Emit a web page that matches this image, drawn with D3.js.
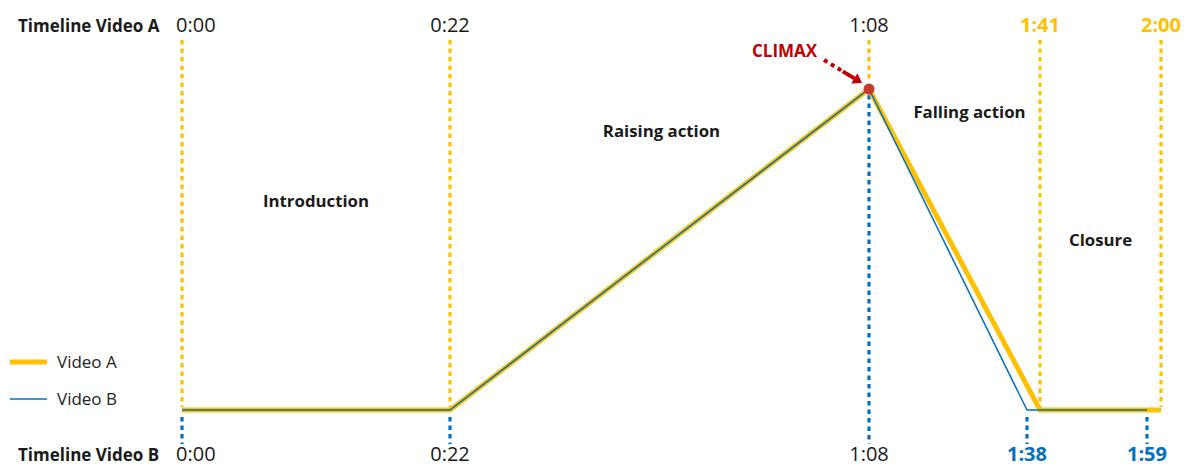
<!DOCTYPE html>
<html>
<head>
<meta charset="utf-8">
<script src="https://cdn.jsdelivr.net/npm/d3@7/dist/d3.min.js"></script>
<style>
  html, body { margin: 0; padding: 0; background: #fff; }
  svg { display: block; font-family: "Open Sans", "Noto Sans", sans-serif; }
</style>
</head>
<body>
<svg id="chart" width="1184" height="468"></svg>
<script>
// Story-arc timestamps for each cut, and the tension level at each of them
const timesA = ["0:00", "0:22", "1:08", "1:41", "2:00"];
const timesB = ["0:00", "0:22", "1:08", "1:38", "1:59"];
const tension = [0, 0, 1, 0, 0];
const phases = ["Introduction", "Raising action", "Falling action", "Closure"];
const seriesNames = ["Video A", "Video B"];
const axisTitles = ["Timeline Video A", "Timeline Video B"];
const climaxLabel = "CLIMAX";

const ORANGE = "#FFC000";
const BLUE = "#0070C0";
const RED = "#C00000";
const INK = "#1a1a1a";

const toSec = s => { const [m, ss] = s.split(":").map(Number); return m * 60 + ss; };
const secA = timesA.map(toSec);
const secB = timesB.map(toSec);

// Schematic (piecewise) time axis shared by both cuts
const stops = Array.from(new Set(secA.concat(secB))).sort((a, b) => a - b);
const x = d3.scaleLinear()
  .domain(stops)                                  // 0,22,68,98,101,119,120
  .range([182, 450, 869, 1027, 1040, 1147, 1161]);
const y = d3.scaleLinear().domain([0, 1]).range([410, 89]);

const svg = d3.select("#chart");

const yTop = 40, yBottom = 444;
const topBaseline = 32, bottomBaseline = 461;

// Video A guides (orange, from top axis down to the curve)
const gA = svg.append("g");
secA.forEach((s, i) => {
  gA.append("line")
    .attr("x1", x(s)).attr("x2", x(s))
    .attr("y1", yTop).attr("y2", i === 2 ? y(1) - 7 : y(tension[i]) - 3)
    .attr("stroke", ORANGE).attr("stroke-width", 3.2)
    .attr("stroke-dasharray", "4.5,4");
});

// Video B guides (blue, from the curve down to the bottom axis)
const gB = svg.append("g");
secB.forEach((s, i) => {
  gB.append("line")
    .attr("x1", x(s)).attr("x2", x(s))
    .attr("y1", i === 2 ? y(1) + 6 : y(tension[i]) + 7)
    .attr("y2", yBottom)
    .attr("stroke", BLUE).attr("stroke-width", 3.2)
    .attr("stroke-dasharray", "4.5,4");
});

// Curves
const line = d3.line().x(d => x(d[0])).y(d => y(d[1]));
svg.append("path")
  .datum(secA.map((s, i) => [s, tension[i]]))
  .attr("d", line)
  .attr("fill", "none").attr("stroke", ORANGE).attr("stroke-width", 5)
  .attr("stroke-linejoin", "miter");
svg.append("path")
  .datum(secB.map((s, i) => [s, tension[i]]))
  .attr("d", line)
  .attr("fill", "none").attr("stroke", BLUE).attr("stroke-width", 1.5);

// Axis labels, top (Video A) and bottom (Video B)
function axisLabels(times, secs, baseline, styleFor) {
  const g = svg.append("g");
  times.forEach((t, i) => {
    const st = styleFor(i);
    g.append("text")
      .attr("x", i === 0 ? x(secs[i]) - 6 : x(secs[i]))
      .attr("y", baseline)
      .attr("text-anchor", i === 0 ? "start" : "middle")
      .attr("font-size", 20)
      .attr("font-weight", st.bold ? 700 : 400)
      .attr("fill", st.color)
      .text(t);
  });
}
axisLabels(timesA, secA, topBaseline, i => i >= 3 ? { color: ORANGE, bold: true } : { color: INK, bold: false });
axisLabels(timesB, secB, bottomBaseline, i => i >= 3 ? { color: BLUE, bold: true } : { color: INK, bold: false });

svg.append("text").attr("x", 18).attr("y", topBaseline)
  .attr("font-size", 17).attr("font-weight", 700).attr("fill", INK)
  .text(axisTitles[0]);
svg.append("text").attr("x", 18).attr("y", bottomBaseline)
  .attr("font-size", 17).attr("font-weight", 700).attr("fill", INK)
  .text(axisTitles[1]);

// Phase labels, placed between consecutive timestamps of Video A
const phaseLayout = [
  { dx: 0, level: 0.645 },
  { dx: 2, level: 0.865 },
  { dx: 15, level: 0.925 },
  { dx: 0, level: 0.525 }
];
phases.forEach((p, i) => {
  const cx = (x(secA[i]) + x(secA[i + 1])) / 2 + phaseLayout[i].dx;
  svg.append("text")
    .attr("x", cx).attr("y", y(phaseLayout[i].level))
    .attr("text-anchor", "middle").attr("dominant-baseline", "middle")
    .attr("font-size", 16.8).attr("font-weight", 700).attr("fill", INK)
    .text(p);
});

// Climax marker and callout
const cx = x(secA[2]), cy = y(tension[2]);
svg.append("circle").attr("cx", cx).attr("cy", cy).attr("r", 5.5).attr("fill", "#C8392B");

const tip = [cx - 7, cy - 6];
const start = [cx - 45, cy - 29];
const ang = Math.atan2(tip[1] - start[1], tip[0] - start[0]);
const along = (p, d) => [p[0] + Math.cos(ang) * d, p[1] + Math.sin(ang) * d];
const dotEnd = along(start, 22);
const headBase = along(tip, -9);
svg.append("line")
  .attr("x1", start[0]).attr("y1", start[1]).attr("x2", dotEnd[0]).attr("y2", dotEnd[1])
  .attr("stroke", RED).attr("stroke-width", 4).attr("stroke-dasharray", "4,4");
svg.append("line")
  .attr("x1", dotEnd[0]).attr("y1", dotEnd[1]).attr("x2", headBase[0]).attr("y2", headBase[1])
  .attr("stroke", RED).attr("stroke-width", 4);
const nx = -Math.sin(ang), ny = Math.cos(ang);
svg.append("path")
  .attr("d", `M${tip[0]},${tip[1]}L${headBase[0] + nx * 6},${headBase[1] + ny * 6}L${headBase[0] - nx * 6},${headBase[1] - ny * 6}Z`)
  .attr("fill", RED);
svg.append("text").attr("x", 752).attr("y", 57)
  .attr("font-size", 17).attr("font-weight", 700).attr("fill", RED)
  .text(climaxLabel);

// Legend
const legend = svg.append("g");
[{ c: ORANGE, w: 5 }, { c: BLUE, w: 1.5 }].forEach((s, i) => {
  const ly = 362 + i * 37;
  legend.append("line").attr("x1", 10).attr("x2", 47).attr("y1", ly).attr("y2", ly)
    .attr("stroke", s.c).attr("stroke-width", s.w);
  legend.append("text").attr("x", 57).attr("y", ly + 6)
    .attr("font-size", 17).attr("fill", "#222").text(seriesNames[i]);
});
</script>
</body>
</html>
